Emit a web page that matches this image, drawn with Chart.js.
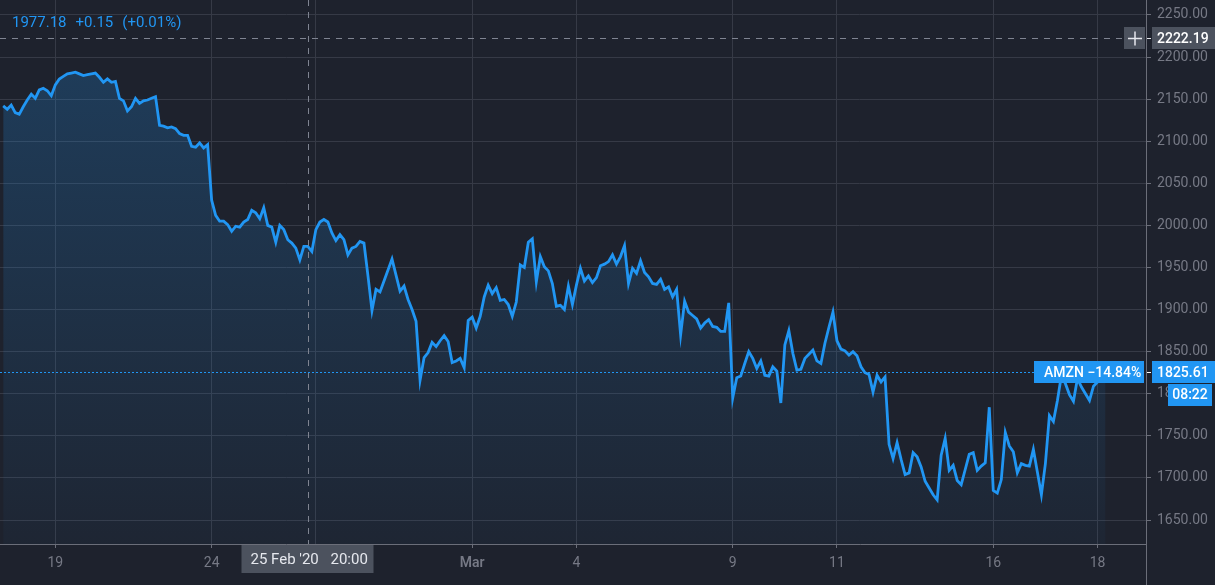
<!DOCTYPE html>
<html>
<head>
<meta charset="utf-8">
<script src="https://cdn.jsdelivr.net/npm/chart.js@4/dist/chart.umd.min.js"></script>
<style>
html,body{margin:0;padding:0;background:#1e222d;overflow:hidden;}
#wrap{position:relative;width:1215px;height:585px;}
</style>
</head>
<body>
<div id="wrap"><canvas id="c"></canvas></div>
<script>
// ---- data (AMZN, 30-minute bars, 13 per session) ----
const sessions = ['Feb 18','Feb 19','Feb 20','Feb 21','Feb 24','Feb 25','Feb 26','Feb 27','Feb 28',
  'Mar 2','Mar 3','Mar 4','Mar 5','Mar 6','Mar 9','Mar 10','Mar 11','Mar 12','Mar 13','Mar 16','Mar 17','Mar 18'];
const prices = [
  2142,2138,2143,2134,2132,2141,2149,2156,2151,2161,2163,2160,2154,
  2167,2174,2177,2180,2181,2182,2180,2178,2179,2180,2181,2176,2170,
  2174,2170,2171,2151,2148,2136,2141,2151,2145,2148,2149,2151,2153,
  2119,2118,2116,2117,2115,2109,2107,2107,2094,2093,2098,2092,2096,
  2030,2012,2005,2005,2001,1993,1999,1998,2004,2007,2018,2015,2008,
  2021,2000,1998,1980,2000,1995,1983,1979,1973,1959,1975,1975,1969,
  1995,2004,2007,2004,1991,1982,1989,1983,1965,1973,1975,1981,1979,
  1940,1899,1924,1921,1934,1947,1960,1941,1922,1928,1912,1900,1886,
  1816,1843,1849,1861,1856,1863,1869,1862,1837,1839,1842,1831,1887,
  1891,1878,1892,1915,1929,1919,1926,1911,1912,1906,1892,1909,1953,
  1950,1980,1984,1933,1963,1951,1946,1931,1904,1905,1900,1928,1906,
  1929,1949,1934,1940,1932,1938,1952,1954,1957,1965,1954,1963,1976,
  1931,1949,1943,1958,1944,1939,1931,1930,1936,1924,1927,1915,1924,
  1870,1910,1897,1893,1889,1878,1884,1888,1880,1879,1874,1874,1908,
  1795,1819,1821,1836,1850,1842,1830,1839,1822,1821,1832,1827,1789,
  1858,1875,1848,1828,1829,1842,1847,1852,1839,1836,1860,1879,1897,
  1863,1853,1851,1846,1850,1845,1832,1825,1823,1802,1822,1814,1820,
  1740,1723,1742,1722,1704,1706,1730,1725,1713,1696,1688,1680,1674,
  1727,1747,1709,1715,1697,1692,1710,1728,1730,1709,1714,1718,1784,
  1685,1682,1698,1754,1738,1731,1706,1717,1715,1714,1734,1707,1680,
  1717,1774,1767,1792,1822,1812,1799,1791,1818,1808,1800,1792,1809,
  1814,1819,1825.61
];
const xTickBars = [13, 52, 78, 117, 143, 182, 208, 247, 273];
const xTickLabels = ['19', '24', '26', 'Mar', '4', '9', '11', '16', '18'];
const yTickValues = [1650,1700,1750,1800,1850,1900,1950,2000,2050,2100,2150,2200,2250];
const legendParts = ['1977.18', '+0.15', '(+0.01%)'];
const crossBar = 76;            // 25 Feb '20 20:00
const crossDate = "25 Feb '20";
const crossTime = '20:00';
const crossPrice = 2222.19;
const lastPrice = 1825.61;
const lastLabel = 'AMZN \u221214.84%';
const countdown = '08:22';

// ---- styles ----
const BG = '#1e222d';
const BLUE = '#2196f3';
const GRID = '#363a46';
const AXIS = '#6b6e79';
const TEXT = '#767985';
const LABELBG = '#4c525e';
const FONT = 'Roboto, "Liberation Sans", sans-serif';

const points = prices.map((v, i) => ({x: i, y: v}));

const bgPlugin = {
  id: 'bg',
  beforeDraw(chart) {
    const c = chart.ctx;
    c.save();
    c.fillStyle = BG;
    c.fillRect(0, 0, chart.width, chart.height);
    c.restore();
  }
};

const overlay = {
  id: 'overlay',
  afterDraw(chart) {
    const c = chart.ctx, xs = chart.scales.x, ys = chart.scales.y, a = chart.chartArea;
    const W = chart.width, H = chart.height;
    c.save();
    // right axis line full height
    c.strokeStyle = AXIS; c.lineWidth = 1;
    c.beginPath(); c.moveTo(a.right + 0.5, 0); c.lineTo(a.right + 0.5, H); c.stroke();

    // crosshair
    const cx = Math.round(xs.getPixelForValue(crossBar)) + 0.5;
    const cy = Math.round(ys.getPixelForValue(crossPrice)) + 0.5;
    c.strokeStyle = '#7f8491'; c.setLineDash([6, 6]);
    c.beginPath(); c.moveTo(cx, a.top); c.lineTo(cx, a.bottom); c.stroke();
    c.beginPath(); c.moveTo(a.left, cy); c.lineTo(a.right - 22, cy); c.stroke();

    // last price dotted line
    const ly = Math.round(ys.getPixelForValue(lastPrice)) + 0.5;
    c.strokeStyle = BLUE; c.setLineDash([2, 2]);
    c.beginPath(); c.moveTo(a.left, ly); c.lineTo(a.right - 112, ly); c.stroke();
    c.setLineDash([]);

    // legend
    c.font = '15px ' + FONT; c.fillStyle = BLUE; c.textBaseline = 'middle'; c.textAlign = 'left';
    let lx = 12;
    legendParts.forEach(p => { c.fillText(p, lx, 23); lx += c.measureText(p).width + 9; });

    // crosshair price label with "+" box
    c.fillStyle = LABELBG;
    c.fillRect(a.right - 22, cy - 11.5, 21, 22);
    c.fillRect(a.right + 6, cy - 11.5, W - a.right - 6, 22);
    c.strokeStyle = '#e6e8ee'; c.lineWidth = 1.5;
    c.beginPath();
    c.moveTo(a.right - 18, cy); c.lineTo(a.right - 4, cy);
    c.moveTo(a.right - 11, cy - 7); c.lineTo(a.right - 11, cy + 7);
    c.stroke();
    c.lineWidth = 1;
    c.beginPath(); c.moveTo(a.right + 1, cy); c.lineTo(a.right + 5, cy); c.stroke();
    c.fillStyle = '#ffffff'; c.font = '500 14px ' + FONT;
    c.fillText(crossPrice.toFixed(2), a.right + 11, cy + 1);

    // last price labels
    c.fillStyle = BLUE;
    c.fillRect(a.right - 112, ly - 11.5, 110, 22);
    c.fillRect(a.right + 6, ly - 11.5, W - a.right - 6, 22);
    c.fillRect(a.right + 22, ly + 11.5, 44, 22);
    c.strokeStyle = '#ffffff';
    c.beginPath(); c.moveTo(a.right + 1, ly); c.lineTo(a.right + 5, ly); c.stroke();
    c.fillStyle = '#ffffff';
    c.fillText(lastLabel, a.right - 102, ly + 1);
    c.fillText(lastPrice.toFixed(2), a.right + 11, ly + 1);
    c.textAlign = 'center';
    c.fillText(countdown, a.right + 44, ly + 23);

    // crosshair time label
    c.fillStyle = LABELBG;
    c.fillRect(cx - 67, a.bottom + 1, 132, 28);
    c.fillStyle = '#e6e8ee'; c.textAlign = 'left'; c.font = '15px ' + FONT;
    c.fillText(crossDate, cx - 58, a.bottom + 16);
    c.fillText(crossTime, cx + 22, a.bottom + 16);
    c.restore();
  }
};

new Chart(document.getElementById('c'), {
  type: 'line',
  data: {
    datasets: [{
      data: points,
      borderColor: BLUE,
      borderWidth: 2.8,
      pointRadius: 0,
      tension: 0,
      fill: 'start',
      backgroundColor: (ctx) => {
        const ch = ctx.chart, area = ch.chartArea;
        if (!area) return 'rgba(33,150,243,0.12)';
        const g = ch.ctx.createLinearGradient(0, area.top, 0, area.bottom);
        g.addColorStop(0, 'rgba(33,150,243,0.25)');
        g.addColorStop(1, 'rgba(33,150,243,0.03)');
        return g;
      }
    }]
  },
  options: {
    responsive: true,
    maintainAspectRatio: false,
    devicePixelRatio: 1,
    animation: false,
    layout: {padding: 0},
    plugins: {legend: {display: false}, tooltip: {enabled: false}},
    scales: {
      x: {
        type: 'linear',
        min: -0.8,
        max: 285.1,
        afterBuildTicks: s => { s.ticks = xTickBars.map(v => ({value: v})); },
        afterFit: s => { s.height = 41; s.paddingLeft = 0; s.paddingRight = 0; },
        ticks: {
          autoSkip: false, maxRotation: 0, padding: 7, color: TEXT,
          font: ctx => ({family: FONT, size: 14, weight: xTickLabels[ctx.index] === 'Mar' ? '600' : '400'}),
          callback: (v, i) => xTickLabels[i]
        },
        grid: {color: GRID, tickColor: AXIS, tickLength: 4, drawTicks: true},
        border: {color: AXIS}
      },
      y: {
        type: 'linear',
        position: 'right',
        min: 1621.5,
        max: 2267.8,
        afterBuildTicks: s => { s.ticks = yTickValues.map(v => ({value: v})); },
        afterFit: s => { s.width = 69; s.paddingTop = 0; s.paddingBottom = 0; },
        ticks: {
          padding: 6, color: TEXT, font: {family: FONT, size: 14},
          callback: v => Number(v).toFixed(2)
        },
        grid: {color: GRID, tickColor: AXIS, tickLength: 5, drawTicks: true},
        border: {color: AXIS}
      }
    }
  },
  plugins: [bgPlugin, overlay]
});
</script>
</body>
</html>
